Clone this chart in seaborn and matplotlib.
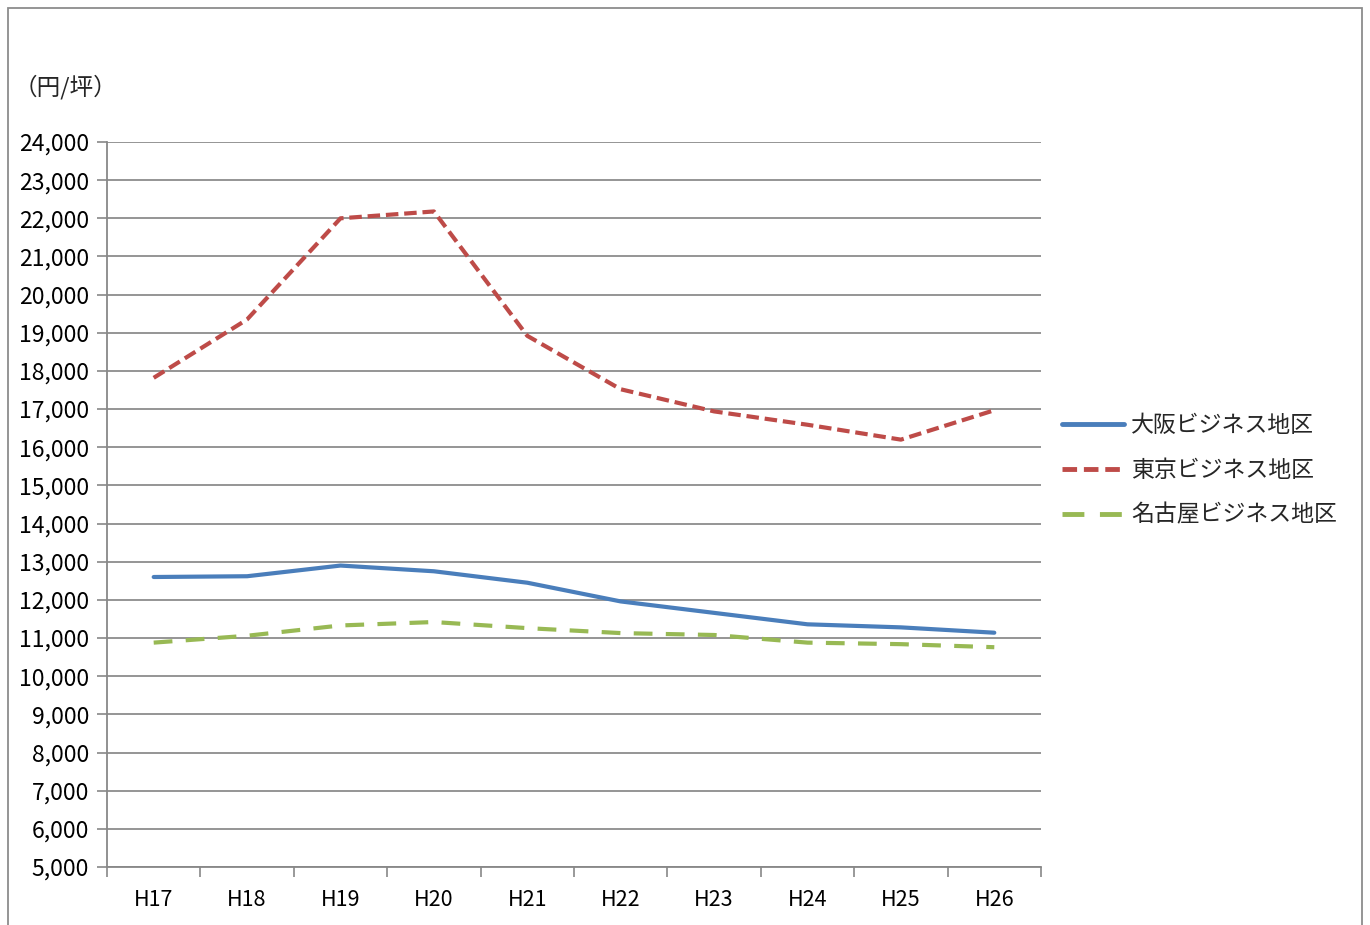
import numpy as np
import pandas as pd
import matplotlib
matplotlib.use('Agg')
import matplotlib.pyplot as plt
from matplotlib.patches import Rectangle
from matplotlib.ticker import FixedLocator, FuncFormatter
import seaborn as sns

years = ['H17', 'H18', 'H19', 'H20', 'H21', 'H22', 'H23', 'H24', 'H25', 'H26']
osaka = [12600, 12620, 12900, 12750, 12450, 11960, 11660, 11360, 11280, 11140]
tokyo = [17820, 19350, 22000, 22180, 18920, 17520, 16940, 16590, 16200, 16970]
nagoya = [10880, 11060, 11330, 11420, 11260, 11130, 11080, 10880, 10840, 10760]
series_names = ['大阪ビジネス地区', '東京ビジネス地区', '名古屋ビジネス地区']
unit_label = '（円/坪）'

df = pd.DataFrame({'year': years * 3,
                   'value': osaka + tokyo + nagoya,
                   'area': np.repeat(series_names, len(years))})
df['x'] = df['year'].map({y: i for i, y in enumerate(years)})

sns.set_style('white')
plt.rcParams['font.family'] = ['Noto Sans CJK JP', 'DejaVu Sans']

fig = plt.figure(figsize=(13.7, 9.25), dpi=100)
ax = fig.add_axes([107 / 1370, 58 / 925, 934 / 1370, 725 / 925])

palette = {series_names[0]: '#4a7ebb', series_names[1]: '#be4b48', series_names[2]: '#98b954'}
dashes = {series_names[0]: '', series_names[1]: (3, 1.4), series_names[2]: (4.5, 3.2)}
sns.lineplot(data=df, x='x', y='value', hue='area', style='area', palette=palette,
             dashes=dashes, linewidth=3, ax=ax)

ax.set_xlim(-0.5, len(years) - 0.5)
ax.set_ylim(5000, 24000)
ax.set_yticks(range(5000, 24001, 1000))
ax.yaxis.set_major_formatter(FuncFormatter(lambda v, p: f'{int(v):,}'))
ax.set_xticks(range(len(years)))
ax.set_xticklabels(years)
ax.xaxis.set_minor_locator(FixedLocator(np.arange(-0.5, len(years), 1)))
ax.tick_params(axis='x', which='major', bottom=True, length=0, pad=16, labelsize=15.5, colors='black')
ax.tick_params(axis='x', which='minor', bottom=True, length=7, width=1.2, color='#888888', direction='out')
ax.tick_params(axis='y', left=True, length=7, width=1.2, color='#888888', labelsize=16.5, pad=6,
               labelcolor='black')
ax.set_xlabel('')
ax.set_ylabel('')
ax.grid(axis='y', color='#8c8c8c', linewidth=1.3)
for s in ['top', 'right']:
    ax.spines[s].set_visible(False)
for s in ['left', 'bottom']:
    ax.spines[s].set_color('#888888')
    ax.spines[s].set_linewidth(1.3)

ax.text(-0.1, 1.075, unit_label, transform=ax.transAxes, fontsize=17, ha='left', va='center')

leg = ax.legend(loc='center left', bbox_to_anchor=(1.023, 0.547), frameon=False,
                fontsize=16.5, handlelength=2.7, handletextpad=0.3, labelspacing=0.95,
                borderpad=0, borderaxespad=0)
for line in leg.get_lines():
    line.set_linewidth(3.5)

fig.add_artist(Rectangle((8 / 1370, -0.01), 1354 / 1370, (917 + 9) / 925,
                         transform=fig.transFigure, fill=False,
                         edgecolor='#8c8c8c', linewidth=1.3))

fig.savefig('out.png', dpi=100)
